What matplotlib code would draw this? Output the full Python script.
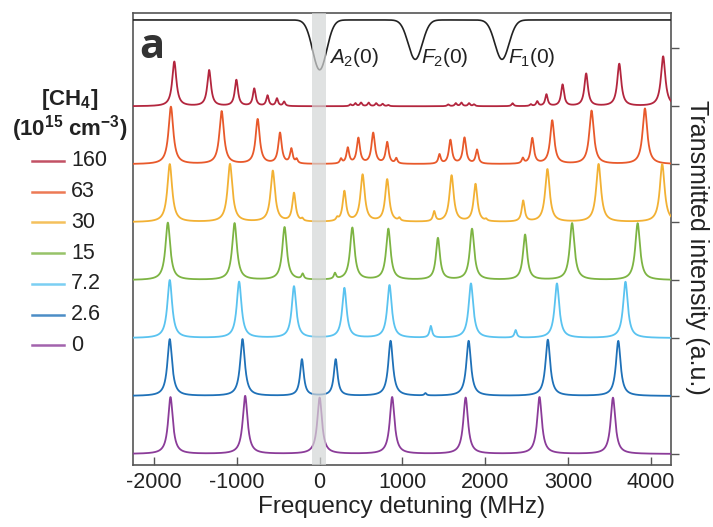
import numpy as np
import matplotlib

matplotlib.use("Agg")
import matplotlib.pyplot as plt
from matplotlib.lines import Line2D

plt.rcParams["font.family"] = ["Liberation Sans", "DejaVu Sans"]
plt.rcParams["mathtext.fontset"] = "custom"
plt.rcParams["mathtext.rm"] = "Liberation Sans"
plt.rcParams["mathtext.it"] = "Liberation Sans:italic"
plt.rcParams["mathtext.bf"] = "Liberation Sans:bold"
plt.rcParams["axes.unicode_minus"] = False

# --- cavity transmission peaks per CH4 density (centre MHz, height a.u.) ------
densities = ["160", "63", "30", "15", "7.2", "2.6", "0"]
colors = ["#b3263e", "#e8592b", "#f2b134", "#7db443", "#5ac3f0", "#1f71b8", "#8b3c99"]

peaks_160 = [-1756, -1335, -1006, -790, -630, -516, -429,
             372, 432, 500, 592, 683, 761, 830,
             1553, 1645, 1713, 1805, 1865,
             2331, 2551, 2629, 2740, 2935, 3220, 3620, 4150]
amps_160 = [0.77, 0.62, 0.45, 0.30, 0.18, 0.13, 0.075,
            0.03, 0.05, 0.06, 0.06, 0.05, 0.04, 0.02,
            0.03, 0.05, 0.06, 0.05, 0.03,
            0.05, 0.03, 0.08, 0.20, 0.37, 0.56, 0.73, 0.86]

peaks_63 = [-1797, -1184, -749, -479, -342, -278, 258, 340, 468, 647, 816, 926,
            1448, 1580, 1750, 1901, 2455, 2569, 2810, 3285, 3930]
amps_63 = [0.99, 0.91, 0.77, 0.53, 0.25, 0.07, 0.08, 0.27, 0.44, 0.53, 0.37, 0.09,
           0.16, 0.41, 0.45, 0.24, 0.09, 0.44, 0.75, 0.92, 0.96]

peaks_30 = [-1811, -1083, -566, -310, -209, 212, 299, 519, 816, 963,
            1384, 1594, 1883, 2011, 2459, 2752, 3370, 4139]
amps_30 = [1.0, 1.0, 0.88, 0.49, 0.04, 0.05, 0.52, 0.81, 0.73, 0.05,
           0.17, 0.80, 0.65, 0.03, 0.36, 0.91, 1.0, 1.0]

peaks_15 = [-1834, -1028, -424, -205, 185, 395, 830, 1429, 1841, 2482, 3050, 3842]
amps_15 = [0.99, 0.98, 0.91, 0.09, 0.10, 0.90, 0.88, 0.72, 0.88, 0.78, 0.98, 0.98]

peaks_7 = [-1811, -973, -310, 299, 844, 1343, 1828, 2368, 2867, 3695]
amps_7 = [1.0, 0.97, 0.89, 0.86, 0.91, 0.20, 0.94, 0.13, 0.94, 0.97]

peaks_2 = [-1811, -932, -214, 194, 857, 1278, 1800, 2757, 3608]
amps_2 = [0.98, 0.98, 0.63, 0.63, 0.95, 0.04, 0.95, 0.97, 0.95]

peaks_0 = [-1802, -900, 0, 876, 1764, 2656, 3544]
amps_0 = [0.98, 1.0, 0.97, 0.98, 0.97, 0.98, 0.97]

all_peaks = [peaks_160, peaks_63, peaks_30, peaks_15, peaks_7, peaks_2, peaks_0]
all_amps = [amps_160, amps_63, amps_30, amps_15, amps_7, amps_2, amps_0]

# methane absorption reference (top trace): dip centre, depth, label
dip_centres = [0, 1155, 2203]
dip_depths = [0.86, 0.68, 0.68]
dip_labels = [r"$A_2$(0)", r"$F_2$(0)", r"$F_1$(0)"]
label_shift = [115, 70, 70]
ref_level = 7.49

x = np.linspace(-2255, 4245, 8000)


def spectrum(centres, amps):
    y = np.zeros_like(x)
    for c, a in zip(centres, amps):
        hw = (28 + 42 * a) / 2
        y += a / (1 + ((x - c) / hw) ** 2)
    return y


W, H = 713, 527
fig = plt.figure(figsize=(W / 100, H / 100), dpi=100)
ax = fig.add_axes([133 / W, 1 - 465 / H, (671 - 133) / W, (465 - 13) / H])

n = len(densities)
for i, (cs, amps, col) in enumerate(zip(all_peaks, all_amps, colors)):
    offset = n - 1 - i
    ax.plot(x, offset + spectrum(cs, amps), color=col, lw=1.3, zorder=3)

ref = np.full_like(x, ref_level)
for c, d in zip(dip_centres, dip_depths):
    ref -= d * np.exp(-0.5 * ((x - c) / 85) ** 2)
ax.plot(x, ref, color="#222222", lw=1.2, zorder=3)
for c, lab, dx in zip(dip_centres, dip_labels, label_shift):
    ax.text(c + dx, 6.84, lab, fontsize=15, va="center", ha="left", color="#222222")

ax.axvspan(-95, 80, color="#d4d6d6", alpha=0.7, lw=0, zorder=4)

ax.text(-2185, 7.02, "a", fontsize=30, fontweight="bold", family="Open Sans",
        va="center", ha="left", color="#333333")

ax.set_xlim(-2255, 4245)
ax.set_ylim(-0.19, 7.61)
ax.set_xticks(np.arange(-2000, 4001, 1000))
ax.tick_params(axis="x", direction="in", length=6, width=1, colors="#555555",
               labelcolor="#222222", labelsize=15.5, pad=5)
ax.yaxis.tick_right()
ax.set_yticks(np.arange(0, 8))
ax.set_yticklabels([])
ax.tick_params(axis="y", direction="out", length=6, width=1, colors="#555555")
for s in ax.spines.values():
    s.set_color("#555555")
    s.set_linewidth(1.2)

ax.set_xlabel("Frequency detuning (MHz)", fontsize=17.5, color="#222222", labelpad=2)
fig.text(697 / W, 1 - 247 / H, "Transmitted intensity (a.u.)", fontsize=18,
         color="#222222", rotation=-90, ha="center", va="center")

# density key on the left
fig.text(70 / W, 1 - 100 / H, r"$\mathbf{[CH_4]}$", fontsize=16,
         ha="center", va="center", color="#222222")
fig.text(70 / W, 1 - 129 / H, r"$\mathbf{(10^{15}\ cm^{-3})}$", fontsize=16,
         ha="center", va="center", color="#222222")
for i, (lab, col) in enumerate(zip(densities, colors)):
    yf = 1 - (161 + 30.7 * i) / H
    fig.add_artist(Line2D([32 / W, 64 / W], [yf, yf], color=col, lw=1.8, alpha=0.8))
    fig.text(71 / W, yf, lab, fontsize=15.5, ha="left", va="center", color="#222222")

fig.savefig("out.png", dpi=100)
